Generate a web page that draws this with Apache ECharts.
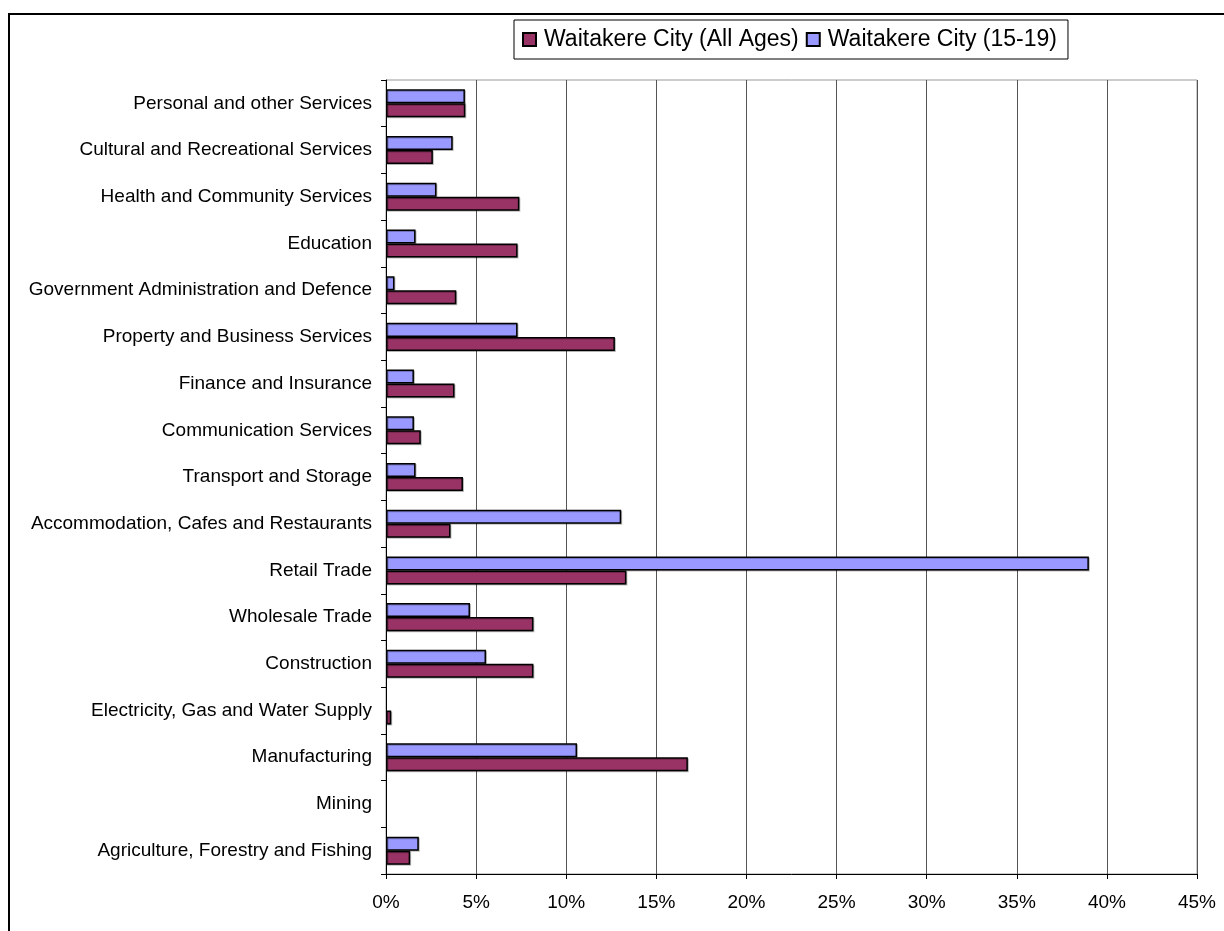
<!DOCTYPE html>
<html>
<head>
<meta charset="utf-8">
<script src="https://cdn.jsdelivr.net/npm/echarts@6/dist/echarts.min.js"></script>
<style>html,body{margin:0;padding:0;background:#fff;}#c{width:1224px;height:931px;}</style>
</head>
<body>
<div id="c"></div>
<script>
const categories = [
  'Agriculture, Forestry and Fishing',
  'Mining',
  'Manufacturing',
  'Electricity, Gas and Water Supply',
  'Construction',
  'Wholesale Trade',
  'Retail Trade',
  'Accommodation, Cafes and Restaurants',
  'Transport and Storage',
  'Communication Services',
  'Finance and Insurance',
  'Property and Business Services',
  'Government Administration and Defence',
  'Education',
  'Health and Community Services',
  'Cultural and Recreational Services',
  'Personal and other Services'
];
const allAges = [1.34, 0, 16.75, 0.29, 8.18, 8.18, 13.34, 3.58, 4.27, 1.93, 3.8, 12.7, 3.9, 7.3, 7.4, 2.6, 4.4];
const age15to19 = [1.82, 0, 10.6, 0, 5.55, 4.66, 39.0, 13.05, 1.64, 1.55, 1.55, 7.3, 0.47, 1.64, 2.8, 3.7, 4.38];
const seriesNames = ['Waitakere City (All Ages)', 'Waitakere City (15-19)'];
const xTicks = { min: 0, max: 45, interval: 5 };

const FONT = "'Liberation Sans', Arial, sans-serif";
const chart = echarts.init(document.getElementById('c'), null, { renderer: 'canvas' });
const barStyle = (color) => ({
  color: color,
  borderColor: '#000',
  borderWidth: 1.5,
  shadowColor: 'rgba(0,0,0,0.25)',
  shadowOffsetX: 1,
  shadowOffsetY: 1,
  shadowBlur: 0
});
// zero-length bars: no outline (nothing visible in the reference)
const toData = (arr) => arr.map(v => v === 0 ? { value: v, itemStyle: { borderWidth: 0, shadowColor: 'transparent' } } : v);
chart.setOption({
  animation: false,
  backgroundColor: '#fff',
  graphic: [{
    type: 'rect',
    shape: { x: 9, y: 14, width: 1300, height: 1000 },
    style: { fill: 'none', stroke: '#000', lineWidth: 2 },
    z: 100
  }],
  legend: {
    data: [seriesNames[0], seriesNames[1]],
    left: 514,
    top: 20,
    orient: 'horizontal',
    padding: [8, 11, 8, 8],
    itemWidth: 13,
    itemHeight: 13,
    itemGap: 7,
    borderColor: '#000',
    borderWidth: 1,
    icon: 'rect',
    textStyle: { fontFamily: FONT, fontSize: 23, color: '#000', padding: [0, 0, 0, 3] }
  },
  grid: {
    left: 386,
    right: 27,
    top: 80,
    bottom: 57,
    show: true,
    borderColor: '#999',
    borderWidth: 1,
    containLabel: false
  },
  xAxis: {
    type: 'value',
    min: xTicks.min,
    max: xTicks.max,
    interval: xTicks.interval,
    axisLine: { show: true, lineStyle: { color: '#000', width: 1 } },
    axisTick: { show: true, length: 5, lineStyle: { color: '#000' } },
    splitLine: { show: true, lineStyle: { color: '#555', width: 1 } },
    axisLabel: {
      formatter: '{value}%',
      fontFamily: FONT,
      fontSize: 19,
      color: '#000',
      margin: 19
    }
  },
  yAxis: {
    type: 'category',
    data: categories,
    axisLine: { show: true, lineStyle: { color: '#000', width: 1 } },
    axisTick: { show: true, length: 5, lineStyle: { color: '#000' } },
    splitLine: { show: false },
    axisLabel: {
      fontFamily: FONT,
      fontSize: 19,
      color: '#000',
      margin: 14
    }
  },
  series: [
    {
      name: seriesNames[1],
      type: 'bar',
      data: toData(age15to19),
      barGap: '0%',
      barCategoryGap: '40%',
      itemStyle: barStyle('#9999FF')
    },
    {
      name: seriesNames[0],
      type: 'bar',
      data: toData(allAges),
      barGap: '0%',
      barCategoryGap: '40%',
      itemStyle: barStyle('#993366')
    }
  ]
});
</script>
</body>
</html>
